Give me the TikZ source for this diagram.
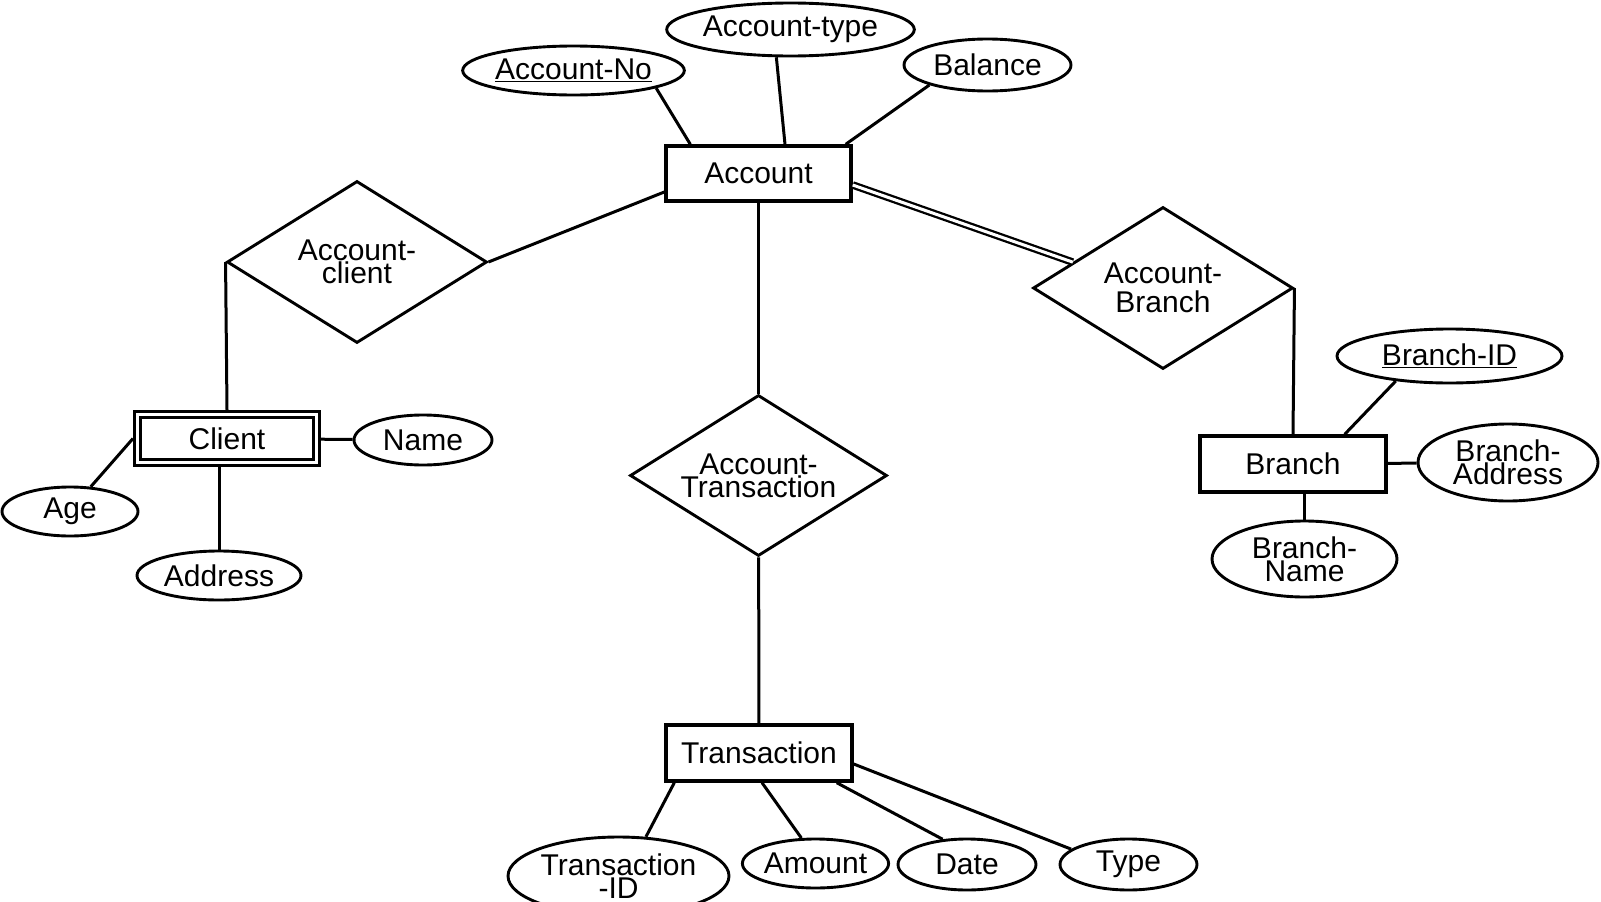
\documentclass[tikz,border=0pt]{standalone}
\usepackage{fontspec}
\setmainfont{Liberation Sans}
\usetikzlibrary{shapes.geometric,calc}
\lineskiplimit=-50pt
\newcommand\erfont{\fontsize{30}{23}\selectfont}
\newcommand\erfontwide{\fontsize{30}{28.5}\selectfont}
\begin{document}
\begin{tikzpicture}[x=1pt,y=-1pt,
  every node/.style={font=\erfont, align=center, inner sep=0pt},
  ent/.style={draw, rectangle, line width=3.4pt},
  attr/.style={draw, ellipse, line width=2.9pt},
  rel/.style={draw, diamond, aspect=1.6, line width=2.9pt},
  conn/.style={line width=3pt}
]
\useasboundingbox (0,0) rectangle (1601,902);
% entities
\node[ent, minimum width=185pt, minimum height=55pt] (account) at (758.5,173.5) {Account};
\node[ent, double, double distance=3.5pt, line width=2.8pt, minimum width=179pt, minimum height=48pt, outer sep=4.5pt] (client) at (227,438.5) {Client};
\node[ent, minimum width=186pt, minimum height=56pt] (branch) at (1293,464) {Branch};
\node[ent, minimum width=186pt, minimum height=56pt] (trans) at (759,753) {Transaction};
% relationships
\node[rel, minimum width=260pt, minimum height=162pt] (ac) at (357,262) {Account-\\client};
\node[rel, minimum width=257pt, minimum height=161pt] (at) at (758.5,475.5) {Account-\\Transaction};
\node[rel, minimum width=260pt, minimum height=162pt, font=\erfontwide] (ab) at (1163,288) {Account-\\Branch};
% attributes
\node[attr, minimum width=215pt, minimum height=49pt] (accno) at (573.5,70.5) {\underline{Account-No}};
\node[attr, minimum width=225pt, minimum height=53pt] (atype) at (790.5,29.5) {Account-type};
\node[attr, minimum width=167pt, minimum height=52pt] (bal) at (987.5,65) {Balance};
\node[attr, minimum width=138pt, minimum height=50pt] (name) at (423,440) {Name};
\node[attr, minimum width=136pt, minimum height=49pt] (age) at (70,511.5) {Age};
\node[attr, minimum width=164pt, minimum height=49pt] (address) at (219,575.5) {Address};
\node[attr, minimum width=225pt, minimum height=54pt] (bid) at (1449.5,356) {\underline{Branch-ID}};
\node[attr, minimum width=180pt, minimum height=77pt] (baddr) at (1508,462.5) {Branch-\\Address};
\node[attr, minimum width=185pt, minimum height=76pt] (bname) at (1304.5,559) {Branch-\\Name};
\node[attr, minimum width=221pt, minimum height=78pt] (tid) at (618.5,876) {Transaction\\-ID};
\node[attr, minimum width=137pt, minimum height=49pt] (amount) at (815.5,863.5) {Amount};
\node[attr, minimum width=138pt, minimum height=51pt] (date) at (967,864.5) {Date};
\node[attr, minimum width=137pt, minimum height=51pt] (type) at (1128.5,864.5) {Type};
% connectors
\draw[conn] (accno.-12) -- ($(account.north west)+(26,0)$);
\draw[conn] (atype.-117) -- ($(account.north)+(26.5,0)$);
\draw[conn] (bal.199) -- ($(account.north east)+(-7,0)$);
\draw[conn] (ac.east) -- ($(account.west)+(0,18.5)$);
\draw[conn] (ac.west) -- (client.north);
\draw[conn] (account) -- (at);
\draw[conn, double, double distance=3pt, line width=2.3pt] ($(account.east)+(0,11.5)$) -- (ab.164);
\draw[conn] (ab.east) -- (branch.north);
\draw[conn] (bid.205) -- ($(branch.north east)+(-43,0)$);
\draw[conn] (branch) -- (baddr);
\draw[conn] (bname.north) -- (bname.north |- branch.south);
\draw[conn] (client) -- (name);
\draw[conn] (age.50) -- (client.west);
\draw[conn] (address.north) -- (address.north |- client.south);
\draw[conn] (at) -- (trans);
\draw[conn] ($(trans.south west)+(10,0)$) -- (tid.55);
\draw[conn] ($(trans.south)+(3,0)$) -- (amount.119);
\draw[conn] ($(trans.south east)+(-17,0)$) -- (date.134);
\draw[conn] ($(trans.east)+(0,11)$) -- (type.165);
\end{tikzpicture}
\end{document}
